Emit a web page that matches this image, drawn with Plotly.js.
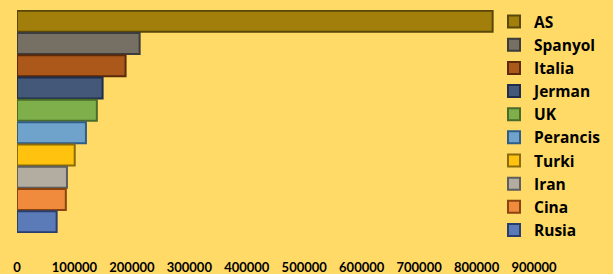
<!DOCTYPE html>
<html><head><meta charset="utf-8">
<script src="https://cdn.plot.ly/plotly-3.0.1.min.js"></script>
<style>body{margin:0;padding:0;background:#FFDA66}#c{width:613px;height:274px}</style>
</head><body><div id="c"></div>
<script>
const countries = ["AS","Spanyol","Italia","Jerman","UK","Perancis","Turki","Iran","Cina","Rusia"];
const values = [828000,213500,189000,149000,139000,120000,100500,87000,85000,69000];
const fillColors = ["#A27F0B","#766F63","#AD581B","#44597A","#7EAF4A","#6FA3CB","#FFC20F","#B3ACA0","#F08A3C","#5B7AB8"];
const lineColors = ["#5A470A","#3C3C3C","#5A2A0A","#1F2D4A","#4A6B2A","#2E5D8A","#8A6B0A","#5E5E5E","#8A4410","#2A3E6E"];
const tickVals = [0,100000,200000,300000,400000,500000,600000,700000,800000,900000];
const tickText = ["0","100000","200000","300000","400000","500000","600000","700000","800000","900000"];

const traces = countries.map((c,i)=>({
  type:'bar', orientation:'h', name:c, x:[values[i]], y:[c],
  marker:{color:fillColors[i], line:{color:lineColors[i], width:2}}
}));

const plotL = 17, plotR = 534, plotT = 10, plotB = 233;
const layout = {
  width:613, height:274,
  paper_bgcolor:'#FFDA66', plot_bgcolor:'#FFDA66',
  margin:{l:plotL, r:613-plotR, t:plotT, b:274-plotB, autoexpand:false},
  barmode:'overlay', bargap:0.06,
  font:{family:'Lato, "DejaVu Sans", sans-serif', color:'#000'},
  xaxis:{range:[0,900000], tickvals:tickVals, ticktext:tickText, showgrid:false, zeroline:false,
         showline:false, ticks:'outside', ticklen:22, tickcolor:'rgba(0,0,0,0)',
         tickfont:{size:13, weight:'bold', color:'#000'}, fixedrange:true},
  yaxis:{categoryorder:'array', categoryarray:countries, autorange:'reversed', range:[9.5,-0.5],
         showticklabels:false, showgrid:false, zeroline:false, showline:false, ticks:''},
  showlegend:true,
  legend:{x:(494-plotL)/(plotR-plotL), xanchor:'left', y:1+5/(plotB-plotT), yanchor:'top',
          bgcolor:'rgba(0,0,0,0)', traceorder:'normal', maxheight:1,
          font:{family:'"Open Sans", sans-serif', size:15.5, weight:'bold', color:'#000'}}
};
Plotly.newPlot('c', traces, layout, {displayModeBar:false, staticPlot:true});
</script></body></html>
